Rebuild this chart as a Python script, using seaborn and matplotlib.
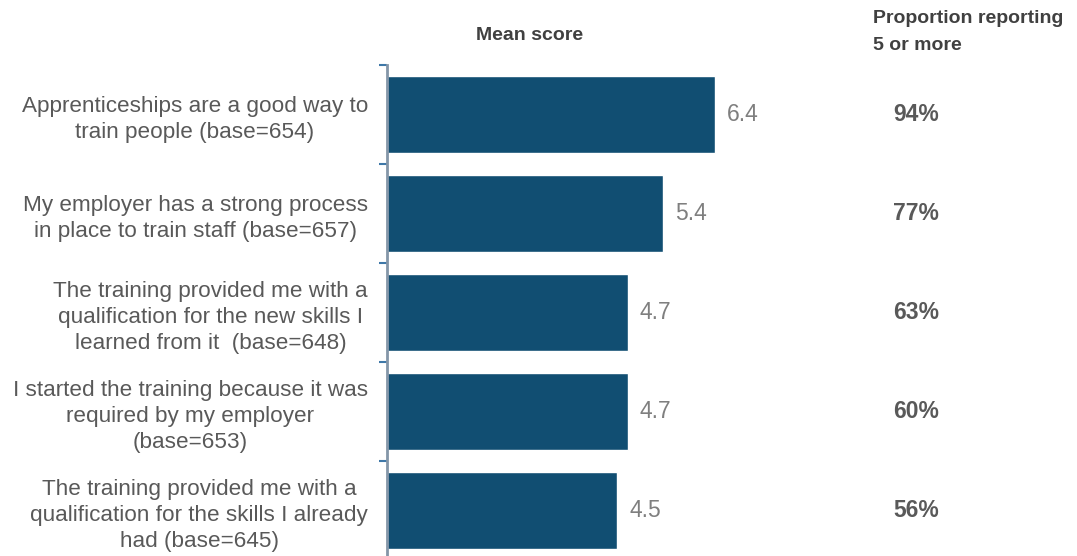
import matplotlib
matplotlib.use("Agg")
import matplotlib.pyplot as plt
import matplotlib.transforms as mtransforms
import seaborn as sns
import pandas as pd

labels = [
    "Apprenticeships are a good way to\ntrain people (base=654)",
    "My employer has a strong process\nin place to train staff (base=657)",
    "The training provided me with a\nqualification for the new skills I\nlearned from it  (base=648)",
    "I started the training because it was\nrequired by my employer\n(base=653)",
    "The training provided me with a\nqualification for the skills I already\nhad (base=645)",
]
mean_scores = [6.4, 5.4, 4.7, 4.7, 4.5]
proportions = ["94%", "77%", "63%", "60%", "56%"]

sns.set_style("white")
plt.rcParams['font.family'] = ['Liberation Sans', 'DejaVu Sans']

W, H = 1077, 556
PX = 72 / 100  # points per pixel
fig = plt.figure(figsize=(W / 100, H / 100), dpi=100)
ax_left = 387 / W
ax_w = 512 / W
ax_top = 1 - 65 / H
ax_bottom = 1 - 560 / H
ax = fig.add_axes([ax_left, ax_bottom, ax_w, ax_top - ax_bottom])

df = pd.DataFrame({"label": labels, "score": mean_scores})
bar_color = "#114E72"
sns.barplot(data=df, x="score", y="label", orient="h", color=bar_color,
            saturation=1, width=0.78, ax=ax)

ax.set_xlim(0, 10)
ax.set_ylim(len(labels) - 0.5, -0.5)
ax.set_xlabel("")
ax.set_ylabel("")
ax.set_xticks([])

for s in ["top", "right", "bottom"]:
    ax.spines[s].set_visible(False)
ax.spines["left"].set_color("#8496A8")
ax.spines["left"].set_linewidth(2)

ax.set_yticks(range(len(labels)))
ax.set_yticklabels(labels, fontsize=16.2, color="#595959", ha="right",
                   multialignment="center", linespacing=1.3)
ax.tick_params(axis="y", which="major", left=False, length=0, pad=19 * PX)
ax.set_yticks([i - 0.5 for i in range(len(labels) + 1)], minor=True)
ax.tick_params(axis="y", which="minor", left=True, length=8 * PX, width=1.5,
               color="#3F78A8", direction="out")

# value labels
for i, v in enumerate(mean_scores):
    ax.text(v + 12 / 51.2, i, f"{v:.1f}", va="center", ha="left",
            fontsize=16.5, color="#7F7F7F")

# proportion column
trans = mtransforms.blended_transform_factory(fig.transFigure, ax.transData)
for i, p in enumerate(proportions):
    ax.text(916 / W, i, p, transform=trans, va="center", ha="center",
            fontsize=16.5, fontweight="bold", color="#595959")

fig.text(530 / W, 1 - 35 / H, "Mean score", ha="center", va="center",
         fontsize=14, fontweight="bold", color="#404040")
fig.text(873 / W, 1 - 32 / H, "Proportion reporting\n5 or more", ha="left",
         va="center", fontsize=14, fontweight="bold", color="#404040",
         linespacing=1.75)

fig.savefig("out.png", dpi=100)
